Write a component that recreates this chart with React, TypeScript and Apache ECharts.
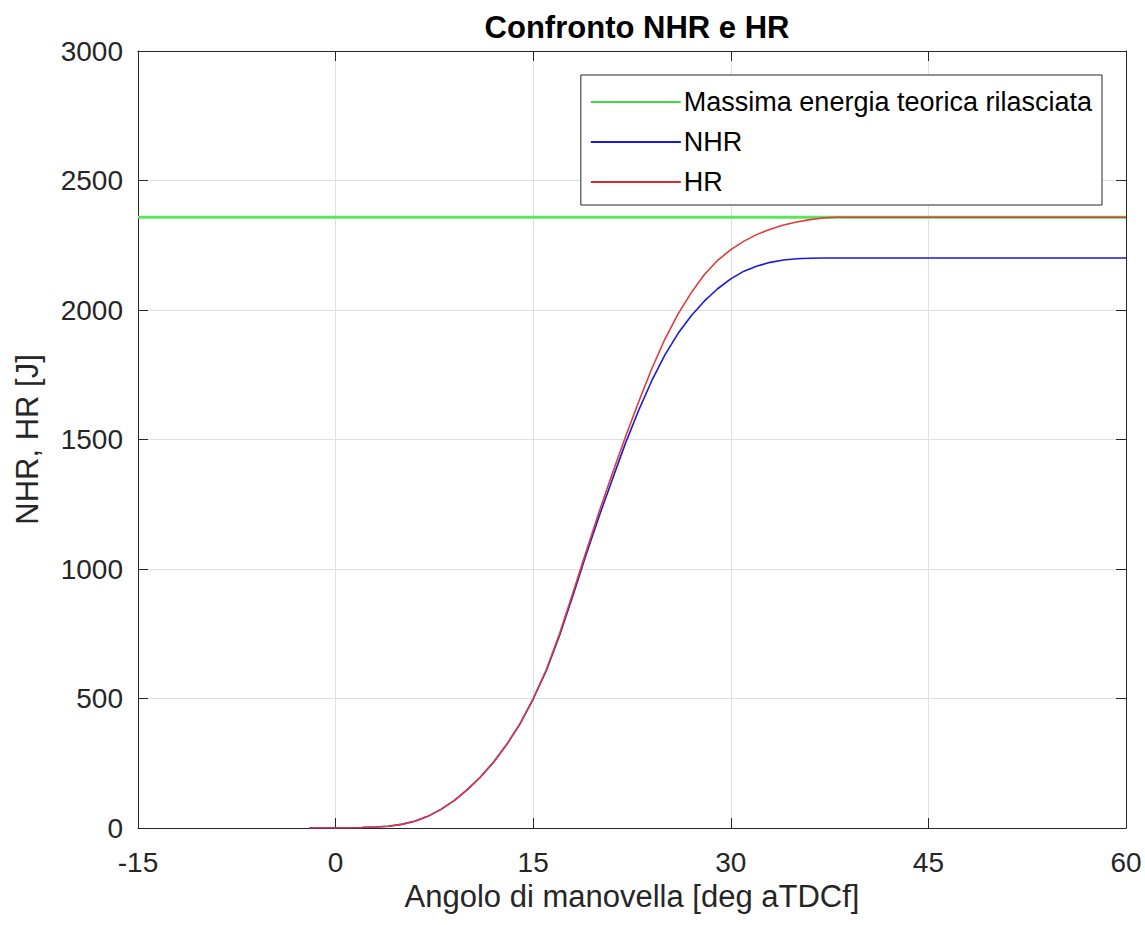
import React, { useEffect, useRef } from "react";
import * as echarts from "echarts";

const TITLE = "Confronto NHR e HR";
const X_NAME = "Angolo di manovella [deg aTDCf]";
const Y_NAME = "NHR, HR [J]";
const SERIES_NAMES = ["Massima energia teorica rilasciata", "NHR", "HR"];

const angles = [-2, -1, 0, 1, 2, 3, 4, 5, 6, 7, 8, 9, 10, 11, 12, 13, 14, 15, 16, 17, 18, 19, 20, 21, 22, 23, 24, 25, 26, 27, 28, 29, 30, 31, 32, 33, 34, 35, 36, 37, 38, 40, 45, 50, 55, 60];
const hrValues = [0, 0, 0, 1, 2, 4, 7, 14, 26, 45, 72, 106, 148, 197, 255, 323, 403, 500, 612, 750, 905, 1065, 1220, 1368, 1510, 1645, 1773, 1888, 1985, 2067, 2137, 2192, 2233, 2266, 2292, 2312, 2328, 2340, 2349, 2355, 2358, 2358, 2358, 2358, 2358, 2358];
const nhrValues = [0, 0, 0, 1, 2, 4, 7, 14, 26, 45, 72, 106, 148, 197, 255, 323, 402, 498, 608, 743, 895, 1053, 1203, 1345, 1485, 1612, 1727, 1827, 1910, 1978, 2035, 2082, 2120, 2150, 2170, 2184, 2193, 2198, 2200, 2201, 2201, 2201, 2201, 2201, 2201, 2201];
const maxEnergyX = [-15, 60];
const maxEnergy = 2358;

const X_MIN = -15, X_MAX = 60, X_STEP = 15;
const Y_MIN = 0, Y_MAX = 3000, Y_STEP = 500;

export default function App() {
  const ref = useRef<HTMLDivElement>(null);
  useEffect(() => {
    if (!ref.current) return;
    const chart = echarts.init(ref.current, undefined, { renderer: "svg" });
    const font = "'Liberation Sans', Arial, Helvetica, sans-serif";
    const axisColor = "#262626";
    const hidden = {
      axisLabel: { show: false },
      splitLine: { show: false },
    };
    const tick = { show: true, inside: true, length: 10, lineStyle: { color: axisColor } };
    const line = { show: true, onZero: false, lineStyle: { color: axisColor, width: 1 } };
    chart.setOption({
      animation: false,
      backgroundColor: "#ffffff",
      textStyle: { fontFamily: font },
      title: {
        text: TITLE,
        left: 632,
        textAlign: "center",
        top: 7,
        textStyle: { fontFamily: font, fontSize: 31, fontWeight: "bold", color: "#000" },
      },
      grid: { left: 138, right: 19, top: 51, bottom: 97, containLabel: false },
      legend: {
        orient: "vertical",
        right: 43,
        top: 75,
        backgroundColor: "#fff",
        borderColor: "#262626",
        borderWidth: 1,
        padding: [12, 10, 8, 10],
        itemGap: 10,
        itemWidth: 90,
        itemHeight: 2,
        icon: "rect",
        data: SERIES_NAMES,
        textStyle: { fontFamily: font, fontSize: 27, color: "#000", lineHeight: 30, padding: [0, 0, 0, -2] },
      },
      xAxis: [
        {
          type: "value",
          min: X_MIN, max: X_MAX, interval: X_STEP,
          name: X_NAME,
          nameLocation: "middle",
          nameGap: 47,
          nameTextStyle: { fontFamily: font, fontSize: 31, color: "#262626" },
          axisLine: line,
          axisTick: tick,
          axisLabel: { fontFamily: font, fontSize: 28, color: "#262626", margin: 20 },
          splitLine: { show: true, lineStyle: { color: "#e0e0e0", width: 1 } },
        },
        {
          type: "value", position: "top",
          min: X_MIN, max: X_MAX, interval: X_STEP,
          axisLine: line,
          axisTick: tick,
          ...hidden,
        },
      ],
      yAxis: [
        {
          type: "value",
          min: Y_MIN, max: Y_MAX, interval: Y_STEP,
          name: Y_NAME,
          nameLocation: "middle",
          nameGap: 95,
          nameTextStyle: { fontFamily: font, fontSize: 31, color: "#262626" },
          axisLine: line,
          axisTick: tick,
          axisLabel: {
            fontFamily: font, fontSize: 28, color: "#262626", margin: 15,
            formatter: (v: number) => String(v),
          },
          splitLine: { show: true, lineStyle: { color: "#e0e0e0", width: 1 } },
        },
        {
          type: "value", position: "right",
          min: Y_MIN, max: Y_MAX, interval: Y_STEP,
          axisLine: line,
          axisTick: tick,
          ...hidden,
        },
      ],
      series: [
        {
          name: SERIES_NAMES[0],
          type: "line",
          data: maxEnergyX.map((x) => [x, maxEnergy]),
          showSymbol: false,
          color: "#3ddc3d",
          lineStyle: { color: "#5ee35e", width: 3 },
        },
        {
          name: SERIES_NAMES[1],
          type: "line",
          data: angles.map((x, i) => [x, nhrValues[i]]),
          showSymbol: false,
          color: "#1a1ad8",
          lineStyle: { color: "#1a1ad8", width: 1.6 },
        },
        {
          name: SERIES_NAMES[2],
          type: "line",
          data: angles.map((x, i) => [x, hrValues[i]]),
          showSymbol: false,
          color: "#dd2b2b",
          lineStyle: { color: "#e03a3a", width: 1.6 },
        },
      ],
    });
    return () => chart.dispose();
  }, []);
  return (
    <div
      ref={ref}
      style={{ position: "fixed", left: 0, top: 0, width: 1145, height: 925, background: "#fff" }}
    />
  );
}
